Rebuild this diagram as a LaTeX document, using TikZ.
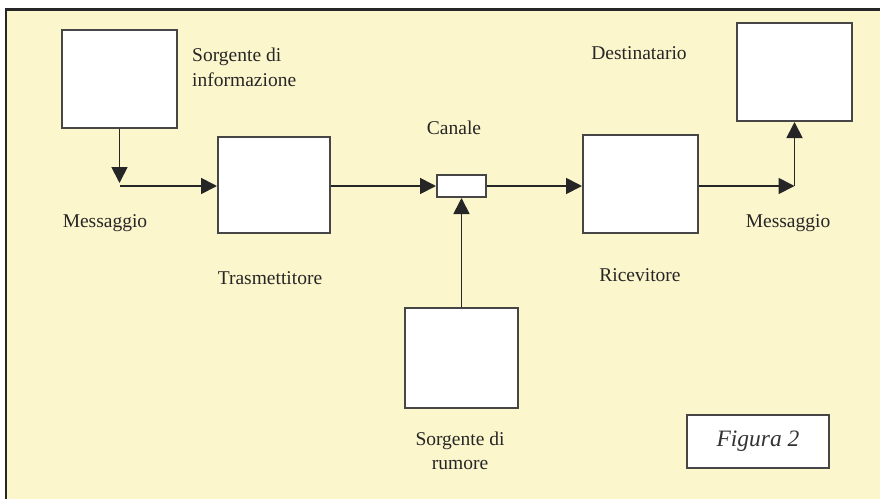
\documentclass[tikz,border=0pt]{standalone}
\usepackage{fontspec}
\setmainfont{Liberation Serif}
\usepackage{xcolor}
\usetikzlibrary{arrows.meta}
\definecolor{paper}{RGB}{252,246,204}
\definecolor{boxline}{RGB}{70,70,70}
\tikzset{
    white-box/.style = {draw=boxline, fill=white, line width=2pt, rectangle, inner sep=0pt},
    box-label/.style = {font=\fontsize{19.5pt}{24.5pt}\selectfont, inner sep=0pt, text=black!85},
    signal/.style = {draw=black!85, line width=1.8pt, -{Triangle[length=16pt,width=16pt]}},
}

\begin{document}
\begin{tikzpicture}[x=1pt, y=-1pt]
\useasboundingbox (0,0) rectangle (880,499);
\fill[paper] (6,9) rectangle (880,499);
\draw[black!85, line width=3pt] (5,9) -- (880,9);
\draw[black!85, line width=2.5pt] (6,9) -- (6,499);

% blocks
\node[white-box, minimum width=115pt, minimum height=98pt] (source) at (119.5,79) {};
\node[white-box, minimum width=112pt, minimum height=96pt] (transmitter) at (274,185) {};
\node[white-box, minimum width=49pt, minimum height=22pt] (channel) at (461.5,186) {};
\node[white-box, minimum width=113pt, minimum height=100pt] (noise) at (461.5,358) {};
\node[white-box, minimum width=115pt, minimum height=98pt] (receiver) at (640.5,184) {};
\node[white-box, minimum width=115pt, minimum height=98pt] (destination) at (794.5,72) {};

% labels
\node[box-label, anchor=west, align=left] (source-text) at (192,67.5) {Sorgente di\\informazione};
\node[box-label] (message-left) at (105,223) {Messaggio};
\node[box-label] (transmitter-text) at (270,278) {Trasmettitore};
\node[box-label] (channel-text) at (454,128) {Canale};
\node[box-label, align=center] (noise-text) at (460,451) {Sorgente di\\rumore};
\node[box-label] (receiver-text) at (640,275) {Ricevitore};
\node[box-label] (destination-text) at (639,53) {Destinatario};
\node[box-label] (message-right) at (788,223) {Messaggio};

% connections
\coordinate (corner-in) at (source.south |- channel.west);
\coordinate (corner-out) at (destination.south |- channel.east);
\draw[signal, shorten >=3pt] (source.south) -- (corner-in);
\draw[signal] (corner-in) -- (transmitter.west |- corner-in);
\draw[signal] (transmitter.east |- channel.west) -- (channel.west);
\draw[signal] (channel.east) -- (receiver.west |- channel.east);
\draw[signal] (noise.north) -- (channel.south);
\draw[signal] (receiver.east |- corner-out) -- (corner-out);
\draw[signal] (corner-out) -- (destination.south);

% figure tag
\node[white-box, minimum width=142pt, minimum height=53pt, font=\fontsize{23.5pt}{27pt}\selectfont\itshape, text=black!80] (figure-tag) at (758,441.5) {Figura 2};
\end{tikzpicture}
\end{document}
